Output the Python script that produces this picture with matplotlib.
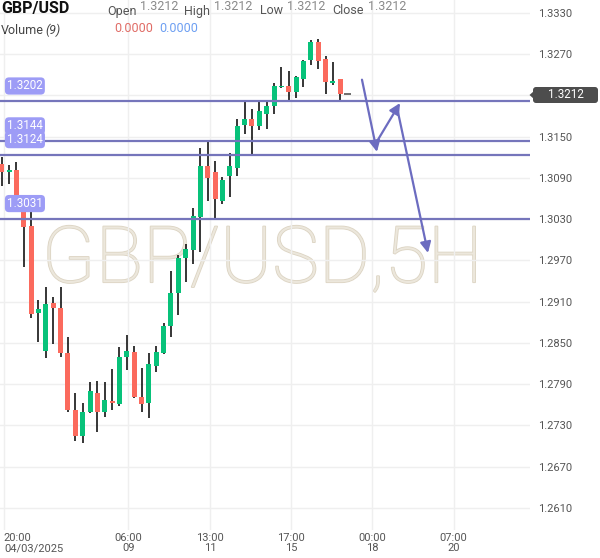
import numpy as np
import matplotlib
matplotlib.use("Agg")
import matplotlib.pyplot as plt
import matplotlib.patheffects as pe
from matplotlib.patches import FancyBboxPatch, Polygon
from matplotlib.transforms import IdentityTransform

plt.rcParams["font.family"] = ["Roboto", "DejaVu Sans"]

# 5H candles, GBP/USD
opens = [1.3110, 1.3098, 1.3102, 1.3051, 1.3020, 1.2893, 1.2838, 1.2908, 1.2901, 1.2835,
         1.2753, 1.2714, 1.2749, 1.2777, 1.2749, 1.2765, 1.2761, 1.2829, 1.2837, 1.2772,
         1.2763, 1.2816, 1.2835, 1.2874, 1.2922, 1.2973, 1.2985, 1.3033, 1.3108, 1.3098,
         1.3056, 1.3093, 1.3104, 1.3167, 1.3176, 1.3165, 1.3183, 1.3195, 1.3222, 1.3224,
         1.3215, 1.3234, 1.3262, 1.3288, 1.3263, 1.3228, 1.3234, 1.3212]
highs = [1.3121, 1.3109, 1.3113, 1.3065, 1.3044, 1.2912, 1.2932, 1.2917, 1.2932, 1.2858,
         1.2777, 1.2762, 1.2793, 1.2795, 1.2793, 1.2812, 1.2844, 1.2861, 1.2846, 1.2813,
         1.2835, 1.2845, 1.2879, 1.2954, 1.2978, 1.2994, 1.3046, 1.3133, 1.3143, 1.3114,
         1.3092, 1.3127, 1.3176, 1.3200, 1.3191, 1.3200, 1.3200, 1.3228, 1.3251, 1.3245,
         1.3238, 1.3262, 1.3291, 1.3292, 1.3268, 1.3259, 1.3234, 1.3212]
lows = [1.3078, 1.3081, 1.3048, 1.2961, 1.2886, 1.2851, 1.2828, 1.2848, 1.2829, 1.2750,
        1.2707, 1.2705, 1.2748, 1.2721, 1.2742, 1.2752, 1.2759, 1.2810, 1.2770, 1.2749,
        1.2741, 1.2808, 1.2834, 1.2858, 1.2890, 1.2939, 1.2965, 1.2983, 1.3056, 1.3029,
        1.3052, 1.3063, 1.3093, 1.3154, 1.3122, 1.3160, 1.3161, 1.3183, 1.3221, 1.3204,
        1.3206, 1.3223, 1.3255, 1.3249, 1.3212, 1.3225, 1.3202, 1.3212]
closes = [1.3099, 1.3101, 1.3051, 1.3019, 1.2892, 1.2899, 1.2907, 1.2901, 1.2835, 1.2752,
          1.2714, 1.2749, 1.2780, 1.2750, 1.2767, 1.2762, 1.2830, 1.2839, 1.2771, 1.2761,
          1.2820, 1.2837, 1.2875, 1.2923, 1.2973, 1.2987, 1.3035, 1.3108, 1.3090, 1.3059,
          1.3087, 1.3108, 1.3166, 1.3176, 1.3165, 1.3188, 1.3195, 1.3224, 1.3224, 1.3215,
          1.3237, 1.3260, 1.3288, 1.3260, 1.3229, 1.3231, 1.3212, 1.3212]

levels = [1.3202, 1.3144, 1.3124, 1.3031]
last_price = 1.3212

# drawn arrows (candle index, price)
arrows = [((48.95, 1.3233), (50.99, 1.3128)),
          ((50.86, 1.3141), (54.12, 1.3199)),
          ((53.70, 1.3193), (57.92, 1.2981))]

time_ticks = [0.3, 17.2, 28.3, 39.3, 50.3, 61.4]
time_labels = ["20:00\n04/03/2025", "06:00\n09", "13:00\n11", "17:00\n15", "00:00\n18", "07:00\n20"]
price_ticks = [1.3330, 1.3270, 1.3210, 1.3150, 1.3090, 1.3030, 1.2970, 1.2910,
               1.2850, 1.2790, 1.2730, 1.2670, 1.2610]

UP = "#08c27a"
DOWN = "#fb6a5d"
LEVEL = "#7575bb"
W, H = 600, 558


def px(x, y):
    return x / W, 1 - y / H


fig = plt.figure(figsize=(6, 5.58), dpi=100)
ax = fig.add_axes([0, 1 - 530 / H, 530 / W, 530 / H])
ax.set_xlim(-0.23, 71.78)
ax.set_ylim(1.25780, 1.33489)

x = np.arange(len(opens))
o = np.array(opens)
c = np.array(closes)
colors = np.array([UP if cc >= oo else DOWN for oo, cc in zip(o, c)])
ax.vlines(x, lows, highs, color="black", lw=1.1, zorder=3)
body = np.abs(c - o)
flat = body < 0.00003
ax.bar(x[~flat], body[~flat], bottom=np.minimum(o, c)[~flat], width=0.68,
       color=colors[~flat], zorder=4)
ax.hlines(c[flat], x[flat] - 0.45, x[flat] + 0.45, color="#555555", lw=1.2, zorder=4)

for lv in levels:
    ax.axhline(lv, color=LEVEL, lw=1.6, zorder=5)
    ax.annotate(f"{lv:.4f}", xy=(0, lv), xycoords=("axes fraction", "data"),
                xytext=(7, 15), textcoords="offset pixels", va="center", ha="left",
                fontsize=8.4, color="white", zorder=6,
                bbox=dict(boxstyle="round,pad=0.18,rounding_size=0.35", fc="#9d9cf6", ec="none"))

for start, end in arrows:
    ax.annotate("", xy=end, xytext=start,
                arrowprops=dict(arrowstyle="-|>", color="#6c6cc0", lw=1.6,
                                mutation_scale=16, shrinkA=0, shrinkB=0), zorder=6)

wm = ax.text(0.495, 1 - 261 / 530, "GBP/USD,5H", transform=ax.transAxes, ha="center", va="center",
             fontsize=56.5, fontweight="light", color="#ece7dc", zorder=0.4)
wm.set_path_effects([pe.withStroke(linewidth=1.2, foreground="#dcd4c3")])

ax.set_axisbelow(True)
ax.grid(True, color="#efefef", lw=1)
ax.set_yticks(price_ticks)
ax.set_yticklabels([f"{p:.4f}" if abs(p - 1.3210) > 1e-6 else "" for p in price_ticks])
ax.yaxis.tick_right()
ax.set_xticks(time_ticks)
ax.set_xticklabels(time_labels)
ax.tick_params(axis="y", length=0, pad=6, labelsize=8, labelcolor="#555555")
ax.tick_params(axis="x", length=0, pad=2.5, labelsize=8, labelcolor="#555555")
for t in ax.get_xticklabels():
    t.set_linespacing(0.95)
ax.get_xticklabels()[0].set_ha("left")
for s in ax.spines.values():
    s.set_visible(False)

# current price tag, drawn in pixel units
tag = FancyBboxPatch((533, H - 103), 65, 16, boxstyle="round,pad=0,rounding_size=3",
                     fc="#4d4d4d", ec="none", transform=IdentityTransform())
fig.patches.append(tag)
fig.patches.append(Polygon([(529.5, H - 95), (534, H - 91), (534, H - 99)], closed=True,
                           fc="#4d4d4d", ec="none", transform=IdentityTransform()))
fig.text(*px(566, 95), f"{last_price:.4f}", ha="center", va="center", fontsize=8.4, color="white")

# header
fig.text(*px(1, 9), "GBP/USD", ha="left", va="center", fontsize=11.5, fontweight="bold", color="#111111")
for label, lx, vx in [("Open", 107, 140), ("High", 184, 214), ("Low", 260, 287), ("Close", 332, 368)]:
    fig.text(*px(lx, 11), label, ha="left", va="center", fontsize=9, color="#555555")
    fig.text(*px(vx, 7), f"{last_price:.4f}", ha="left", va="center", fontsize=9, color="#8a8a8a")
fig.text(*px(1, 30), "Volume", ha="left", va="center", fontsize=9, color="#444444")
fig.text(*px(45, 30), "(9)", ha="left", va="center", fontsize=9, style="italic", color="#444444")
fig.text(*px(114, 29), "0.0000", ha="left", va="center", fontsize=9, color="#e06c66")
fig.text(*px(159, 29), "0.0000", ha="left", va="center", fontsize=9, color="#6d9ff2")

fig.savefig("out.png", dpi=100)
